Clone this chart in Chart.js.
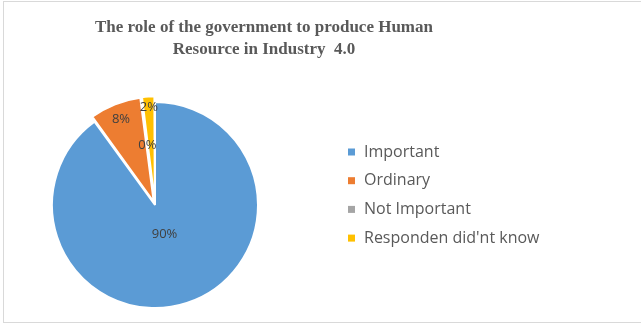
<!DOCTYPE html>
<html>
<head>
<meta charset="utf-8">
<script src="https://cdn.jsdelivr.net/npm/chart.js@4.4.1/dist/chart.umd.min.js"></script>
<style>
  html, body { margin: 0; padding: 0; background: #ffffff; }
  #wrap { position: relative; width: 641px; height: 326px; }
  #frame { position: absolute; left: 3px; top: 1px; width: 640px; height: 322px;
           border: 1px solid #d9d9d9; box-sizing: border-box; border-right: none; }
  canvas { position: absolute; left: 0; top: 0; }
</style>
</head>
<body>
<div id="wrap">
  <div id="frame"></div>
  <canvas id="c" width="641" height="326"></canvas>
</div>
<script>
const titleLines = ['The role of the government to produce Human', 'Resource in Industry  4.0'];
const categories = ['Important', 'Ordinary', 'Not Important', 'Responden did\'nt know'];
const shares = [90, 8, 0, 2];
const valueLabels = ['90%', '8%', '0%', '2%'];
const sliceColors = ['#5B9BD5', '#ED7D31', '#A5A5A5', '#FFC000'];

// label distance from each slice's own centre, as a fraction of the radius
const labelRadius = [0.3, 0.76, 0.45, 0.83];
const explode = [0, 14, 14, 12];

const titlePlugin = {
  id: 'titleLines',
  afterDraw(chart) {
    const ctx = chart.ctx;
    ctx.save();
    ctx.fillStyle = '#595959';
    ctx.font = 'bold 17px "Liberation Serif", "Times New Roman", serif';
    ctx.textAlign = 'center';
    ctx.textBaseline = 'middle';
    ctx.fillText(titleLines[0], 264, 28);
    ctx.fillText(titleLines[1], 264, 50);
    ctx.restore();
  }
};

const sliceLabels = {
  id: 'sliceLabels',
  afterDatasetsDraw(chart) {
    const ctx = chart.ctx;
    const meta = chart.getDatasetMeta(0);
    ctx.save();
    ctx.fillStyle = '#404040';
    ctx.font = '13px "Open Sans", "DejaVu Sans", sans-serif';
    ctx.textAlign = 'center';
    ctx.textBaseline = 'middle';
    meta.data.forEach((arc, i) => {
      const p = arc.getProps(['x', 'y', 'startAngle', 'endAngle', 'outerRadius'], true);
      const mid = (p.startAngle + p.endAngle) / 2;
      const d = labelRadius[i] * p.outerRadius + explode[i];
      ctx.fillText(valueLabels[i], p.x + Math.cos(mid) * d, p.y + Math.sin(mid) * d);
    });
    ctx.restore();
  }
};

const legendBox = {
  id: 'legendBox',
  afterDraw(chart) {
    const ctx = chart.ctx;
    ctx.save();
    ctx.font = '16px "Open Sans", "DejaVu Sans", sans-serif';
    ctx.textBaseline = 'middle';
    categories.forEach((name, i) => {
      const y = 152 + i * 28.7;
      ctx.fillStyle = sliceColors[i];
      ctx.fillRect(348, y - 3.5, 7, 7);
      ctx.fillStyle = '#595959';
      ctx.fillText(name, 364, y);
    });
    ctx.restore();
  }
};

new Chart(document.getElementById('c'), {
  type: 'pie',
  data: {
    labels: categories,
    datasets: [{
      data: shares,
      backgroundColor: sliceColors,
      borderColor: '#ffffff',
      borderWidth: 2,
      offset: explode
    }]
  },
  options: {
    responsive: false,
    animation: false,
    radius: 103,
    layout: { padding: { left: 40, right: 371, top: 90, bottom: 6 } },
    plugins: {
      legend: { display: false },
      title: { display: false },
      tooltip: { enabled: false }
    }
  },
  plugins: [titlePlugin, sliceLabels, legendBox]
});
</script>
</body>
</html>
